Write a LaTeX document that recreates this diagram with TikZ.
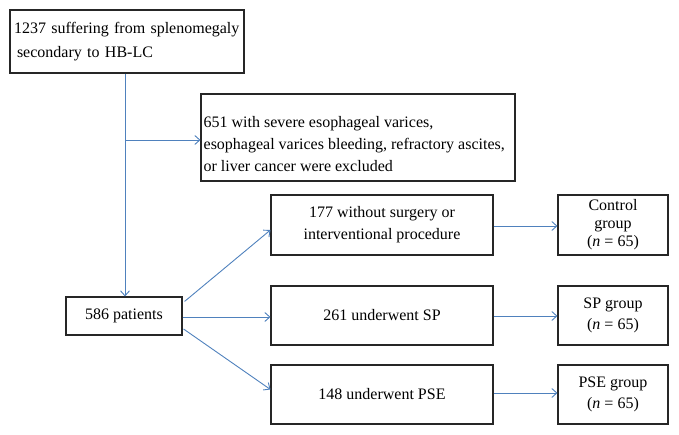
\documentclass[tikz,border=0pt]{standalone}
\usepackage{fontspec}
\setmainfont{Liberation Serif}
\usetikzlibrary{arrows.meta}
\definecolor{arrblue}{HTML}{4F81BD}
\tikzset{
  box/.style={draw=black!85, line width=1.1pt, rectangle, inner sep=2pt, font=\fontsize{16}{21}\selectfont},
  txt/.style={inner sep=0pt, align=left},
  arr/.style={draw=arrblue, line width=0.9pt, -{Straight Barb[length=5pt,width=9pt]}},
}
\begin{document}
\begin{tikzpicture}[x=1pt,y=-1pt]
\useasboundingbox (0,0) rectangle (679,435);
\node[box, minimum width=234pt, minimum height=63pt, align=left, text width=226pt, font=\fontsize{16}{24}\selectfont] (b1) at (127,41.5) {1237 suffering from splenomegaly\\\hspace*{3pt}secondary to HB-LC};
\node[box, minimum width=314pt, minimum height=87pt] (excl) at (358,137.5) {};
\node[txt, font=\fontsize{16}{22}\selectfont, anchor=west] (excltxt) at ([xshift=3pt,yshift=-7pt]excl.west) {651 with severe esophageal varices,\\esophageal varices bleeding, refractory ascites,\\or liver cancer were excluded};
\node[box, minimum width=116pt, minimum height=38pt] (p586) at (124,316) {586 patients};
\node[box, minimum width=222pt, minimum height=60pt, align=center, font=\fontsize{16}{22}\selectfont] (n177) at (382,225) {177 without surgery or\\interventional procedure};
\node[box, minimum width=222pt, minimum height=59pt] (n261) at (382,315.5) {261 underwent SP};
\node[box, minimum width=222pt, minimum height=59pt] (n148) at (382,394.5) {148 underwent PSE};
\node[box, minimum width=110pt, minimum height=60pt, align=center, font=\fontsize{16}{18}\selectfont] (ctrl) at (613,225) {Control\\group\\(\textit{n} = 65)};
\node[box, minimum width=110pt, minimum height=59pt, align=center] (spg) at (613,315.5) {SP group\\(\textit{n} = 65)};
\node[box, minimum width=110pt, minimum height=59pt, align=center] (pseg) at (613,394.5) {PSE group\\(\textit{n} = 65)};
\coordinate (top) at (b1.south -| 125,0);
\coordinate (bot) at (p586.north -| 125,0);
\coordinate (br) at (125,140);
\draw[arr] (top) -- (bot);
\draw[arr] (br) -- (br -| excl.west);
\draw[arr] ([xshift=2pt,yshift=-5pt]p586.north east) -- ([yshift=-5pt]n177.west);
\draw[arr] ([yshift=-1pt]p586.east) -- ([yshift=-1pt]p586.east -| n261.west);
\draw[arr] ([xshift=1pt,yshift=-13pt]p586.east) -- ([yshift=5pt]n148.west);
\draw[arr] ([yshift=-1pt]n177.east) -- ([yshift=-1pt]ctrl.west);
\draw[arr] ([yshift=-0.5pt]n261.east) -- ([yshift=-0.5pt]spg.west);
\draw[arr] ([yshift=1.5pt]n148.east) -- ([yshift=1.5pt]pseg.west);
\end{tikzpicture}
\end{document}
